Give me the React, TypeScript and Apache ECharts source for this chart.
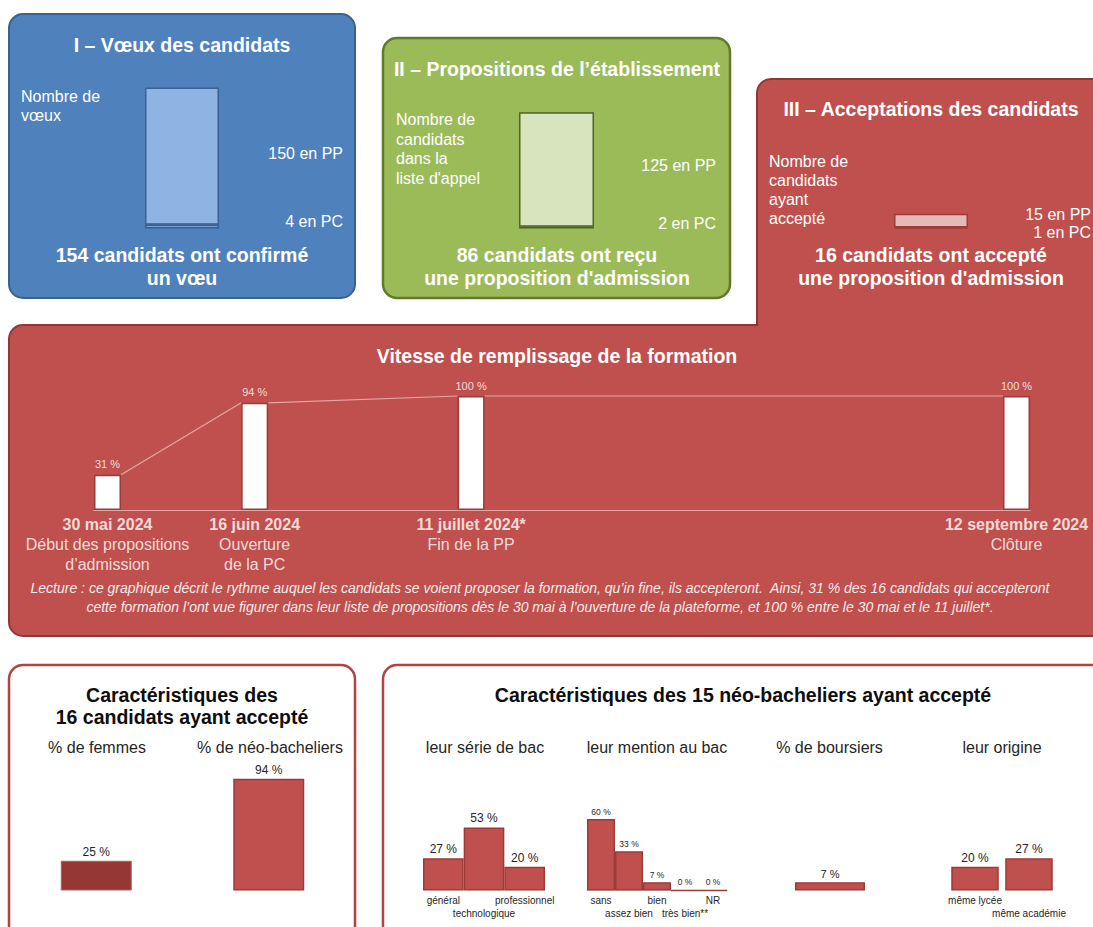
import React, { useEffect, useRef } from "react";
import * as echarts from "echarts";

const FONT = '"Liberation Sans", Arial, Helvetica, sans-serif';

// ---- Panel I : vœux
const voeuxPP = 150;
const voeuxPC = 4;
const voeuxConfirmes = 154;
// ---- Panel II : propositions
const propPP = 125;
const propPC = 2;
const propRecues = 86;
// ---- Panel III : acceptations
const accPP = 15;
const accPC = 1;
const accTotal = 16;

// ---- Vitesse de remplissage
const fillDates = ["2024-05-30", "2024-06-16", "2024-07-11", "2024-09-12"];
const fillPct = [31, 94, 100, 100];
const fillDateLabels = ["30 mai 2024", "16 juin 2024", "11 juillet 2024*", "12 septembre 2024"];
const fillEventLabels = [
  ["Début des propositions", "d’admission"],
  ["Ouverture", "de la PC"],
  ["Fin de la PP"],
  ["Clôture"],
];

// ---- Caractéristiques des candidats ayant accepté
const profileCats = ["% de femmes", "% de néo-bacheliers"];
const profileValues = [25, 94];

// ---- Caractéristiques des néo-bacheliers
const neoCount = 15;
const neoSubtitles = ["leur série de bac", "leur mention au bac", "% de boursiers", "leur origine"];
const serieCats = ["général", "technologique", "professionnel"];
const serieValues = [27, 53, 20];
const mentionCats = ["sans", "assez bien", "bien", "très bien**", "NR"];
const mentionValues = [60, 33, 7, 0, 0];
const boursierCats = ["boursiers"];
const boursierValues = [7];
const origineCats = ["même lycée", "même académie"];
const origineValues = [20, 27];

const RED = "#C0504D";
const RED_DARK = "#8C3836";
const BAR_BORDER = "#9B3B38";

const ts = (d: string) => new Date(d + "T00:00:00").getTime();

type TOpt = { size?: number; bold?: boolean; italic?: boolean; fill?: string; align?: string; lh?: number };
const T = (text: string, x: number, y: number, o: TOpt = {}) => {
  const size = o.size ?? 16;
  const align = o.align ?? "center";
  return {
    type: "text",
    x,
    y,
    silent: true,
    style: {
      text,
      fill: o.fill ?? "#FFFFFF",
      fontSize: size,
      fontWeight: o.bold ? "bold" : "normal",
      fontStyle: o.italic ? "italic" : "normal",
      fontFamily: FONT,
      lineHeight: o.lh ?? Math.round(size * 1.2),
      align,
      verticalAlign: "middle",
      textAlign: align,
      textVerticalAlign: "middle",
    },
  };
};
const R = (x: number, y: number, w: number, h: number, r: any, fill: string, stroke: string, lw: number) => ({
  type: "rect",
  silent: true,
  shape: { x, y, width: w, height: h, r },
  style: { fill, stroke, lineWidth: lw },
});

function buildOption(): any {
  const timelineData = fillDates.map((d, i) => [ts(d), fillPct[i]]);
  const tMin = ts(fillDates[0]);
  const tMax = ts(fillDates[fillDates.length - 1]);

  const topGrid = (left: number, width: number) => ({ left, width, top: 82, height: 146.5 });
  const botGrid = (left: number, width: number) => ({ left, width, top: 771.5, height: 119 });

  const stagger = (v: string, i: number) => (i % 2 ? "\n" + v : v);
  const catAxis = (gridIndex: number, data: string[], labels: boolean, line = false) => ({
    type: "category",
    gridIndex,
    data,
    axisLine: { show: line, lineStyle: { color: "#D9D9D9", width: 1.2 } },
    axisTick: { show: false },
    axisLabel: {
      show: labels,
      interval: 0,
      fontSize: 10,
      lineHeight: 13,
      margin: 3,
      color: "#262626",
      fontFamily: FONT,
      formatter: stagger,
    },
    splitLine: { show: false },
  });
  const valAxis = (gridIndex: number, max: number) => ({ type: "value", gridIndex, min: 0, max, show: false });

  const topBar = (idx: number, val: number, fill: string, border: string) => ({
    type: "bar",
    xAxisIndex: idx,
    yAxisIndex: idx,
    stack: "s" + idx,
    barWidth: "100%",
    data: [val],
    itemStyle: { color: fill, borderColor: border, borderWidth: 1.5 },
    silent: true,
  });

  const botLabel = (size: number) => ({
    show: true,
    position: "top",
    distance: 3,
    fontSize: size,
    color: "#262626",
    fontFamily: FONT,
    formatter: (p: any) => p.value + " %",
  });
  const botItem = { color: RED, borderColor: BAR_BORDER, borderWidth: 1.5 };

  const graphics: any[] = [
    // panels
    R(9, 14, 346, 284, 14, "#4F81BD", "#3A6190", 2),
    R(383, 38, 347, 260, 14, "#9BBB59", "#61792F", 2.5),
    R(757, 79, 360, 248, [14, 14, 0, 0], RED, RED_DARK, 2),
    R(9, 325, 1110, 311, 14, RED, RED_DARK, 2),
    R(758.5, 318, 360, 14, 0, RED, "none", 0),
    R(9, 665, 346, 290, 14, "#FFFFFF", "#B04441", 2.5),
    R(383, 665, 740, 290, 14, "#FFFFFF", "#B04441", 2.5),

    // Panel I
    T("I – Vœux des candidats", 182, 45, { size: 19.5, bold: true }),
    T("Nombre de\nvœux", 21, 105.5, { size: 16, align: "left", lh: 19 }),
    T(`${voeuxPP} en PP`, 343, 153, { size: 16, align: "right" }),
    T(`${voeuxPC} en PC`, 343, 221, { size: 16, align: "right" }),
    T(`${voeuxConfirmes} candidats ont confirmé\nun vœu`, 182, 266.5, { size: 19.5, bold: true, lh: 23 }),

    // Panel II
    T("II – Propositions de l’établissement", 557, 69, { size: 19.5, bold: true }),
    T("Nombre de\ncandidats\ndans la\nliste d'appel", 396, 149, { size: 16, align: "left", lh: 19.5 }),
    T(`${propPP} en PP`, 716, 165, { size: 16, align: "right" }),
    T(`${propPC} en PC`, 716, 223, { size: 16, align: "right" }),
    T(`${propRecues} candidats ont reçu\nune proposition d'admission`, 557, 266, { size: 19.5, bold: true, lh: 23 }),

    // Panel III
    T("III – Acceptations des candidats", 931, 109, { size: 19.5, bold: true }),
    T("Nombre de\ncandidats\nayant\naccepté", 769, 190, { size: 16, align: "left", lh: 18.8 }),
    T(`${accPP} en PP`, 1091, 214, { size: 16, align: "right" }),
    T(`${accPC} en PC`, 1091, 232, { size: 16, align: "right" }),
    T(`${accTotal} candidats ont accepté\nune proposition d'admission`, 931, 266, { size: 19.5, bold: true, lh: 23 }),

    // Timeline
    T("Vitesse de remplissage de la formation", 557, 356, { size: 19.5, bold: true }),
    T(
      "Lecture : ce graphique décrit le rythme auquel les candidats se voient proposer la formation, qu’in fine, ils accepteront.  Ainsi, 31 % des 16 candidats qui accepteront\ncette formation l’ont vue figurer dans leur liste de propositions dès le 30 mai à l’ouverture de la plateforme, et 100 % entre le 30 mai et le 11 juillet*.",
      540,
      597.5,
      { size: 14, italic: true, lh: 18.5, fill: "#F4ECEC" }
    ),

    // Bottom left
    T(`Caractéristiques des\n${accTotal} candidats ayant accepté`, 182, 706, { size: 19.5, bold: true, lh: 22, fill: "#0D0D0D" }),
    T(profileCats[0], 97, 747, { size: 16, fill: "#262626" }),
    T(profileCats[1], 270, 747, { size: 16, fill: "#262626" }),

    // Bottom right
    T(`Caractéristiques des ${neoCount} néo-bacheliers ayant accepté`, 743, 695, { size: 19.5, bold: true, fill: "#0D0D0D" }),
    T(neoSubtitles[0], 485, 747, { size: 16, fill: "#262626" }),
    T(neoSubtitles[1], 657, 747, { size: 16, fill: "#262626" }),
    T(neoSubtitles[2], 829.5, 747, { size: 16, fill: "#262626" }),
    T(neoSubtitles[3], 1002, 747, { size: 16, fill: "#262626" }),
  ];

  return {
    animation: false,
    backgroundColor: "#FFFFFF",
    textStyle: { fontFamily: FONT },
    graphic: { elements: graphics },
    grid: [
      topGrid(145, 74),
      topGrid(519, 75),
      topGrid(894, 74),
      { left: 94, width: 936, top: 396, height: 114 },
      botGrid(10, 345),
      botGrid(423, 122),
      botGrid(587, 140),
      botGrid(795, 70),
      botGrid(948, 108),
    ],
    xAxis: [
      { type: "category", gridIndex: 0, data: [""], show: false },
      { type: "category", gridIndex: 1, data: [""], show: false },
      { type: "category", gridIndex: 2, data: [""], show: false },
      {
        type: "time",
        gridIndex: 3,
        min: tMin,
        max: tMax,
        axisLine: { show: true, lineStyle: { color: "#E2A7A5", width: 1.2 } },
        axisTick: { show: false },
        axisLabel: { show: false },
        splitLine: { show: false },
      },
      catAxis(4, profileCats, false),
      catAxis(5, serieCats, true),
      catAxis(6, mentionCats, true, true),
      catAxis(7, boursierCats, false),
      catAxis(8, origineCats, true),
    ],
    yAxis: [
      valAxis(0, 160),
      valAxis(1, 160),
      valAxis(2, 160),
      valAxis(3, 100),
      valAxis(4, 100),
      valAxis(5, 100),
      valAxis(6, 100),
      valAxis(7, 100),
      valAxis(8, 100),
    ],
    series: [
      topBar(0, voeuxPC, "#8EB4E3", "#3B5F8F"),
      topBar(0, voeuxPP, "#8EB4E3", "#3B5F8F"),
      topBar(1, propPC, "#D7E4BD", "#4F6228"),
      topBar(1, propPP, "#D7E4BD", "#4F6228"),
      topBar(2, accPC, "#E6B9B8", "#9B3B38"),
      topBar(2, accPP, "#E6B9B8", "#9B3B38"),
      {
        type: "custom",
        coordinateSystem: "cartesian2d",
        xAxisIndex: 3,
        yAxisIndex: 3,
        silent: true,
        encode: { x: 0, y: 1 },
        data: timelineData,
        renderItem: (params: any, api: any) => {
          const i = params.dataIndex;
          if (i === 0) return { type: "group", children: [] };
          const p0 = api.coord(timelineData[i - 1]);
          const p1 = api.coord([api.value(0), api.value(1)]);
          return {
            type: "line",
            shape: { x1: p0[0] + 13.5, y1: p0[1], x2: p1[0] - 13.5, y2: p1[1] },
            style: { stroke: "#E2A7A5", lineWidth: 1.2 },
          };
        },
      },
      {
        type: "bar",
        xAxisIndex: 3,
        yAxisIndex: 3,
        barWidth: 27,
        silent: true,
        data: timelineData,
        itemStyle: { color: "#FFFFFF", borderColor: BAR_BORDER, borderWidth: 1.5 },
        label: {
          show: true,
          position: "top",
          distance: 5,
          fontSize: 11,
          color: "#F2DCDB",
          fontFamily: FONT,
          formatter: (p: any) => p.value[1] + " %",
        },
      },
      {
        type: "scatter",
        xAxisIndex: 3,
        yAxisIndex: 3,
        silent: true,
        symbolSize: 1,
        itemStyle: { color: "rgba(0,0,0,0)" },
        data: fillDates.map((d) => [ts(d), 0]),
        label: {
          show: true,
          position: "bottom",
          distance: 4,
          align: "center",
          formatter: (p: any) =>
            `{b|${fillDateLabels[p.dataIndex]}}\n` + fillEventLabels[p.dataIndex].map((l) => `{n|${l}}`).join("\n"),
          rich: {
            b: { fontSize: 16, fontWeight: "bold", color: "#FFFFFF", lineHeight: 20, fontFamily: FONT, align: "center" },
            n: { fontSize: 16, color: "#FFFFFF", lineHeight: 20, fontFamily: FONT, align: "center" },
          },
        },
      },
      {
        type: "bar",
        xAxisIndex: 4,
        yAxisIndex: 4,
        barWidth: 71,
        silent: true,
        data: profileValues.map((v, i) => ({
          value: v,
          itemStyle: i === 0 ? { color: "#953735", borderColor: "#B0605E", borderWidth: 1 } : botItem,
        })),
        label: botLabel(12),
      },
      {
        type: "bar",
        xAxisIndex: 5,
        yAxisIndex: 5,
        barCategoryGap: "0%",
        silent: true,
        data: serieValues,
        itemStyle: botItem,
        label: botLabel(12),
      },
      {
        type: "bar",
        xAxisIndex: 6,
        yAxisIndex: 6,
        barCategoryGap: "0%",
        silent: true,
        data: mentionValues,
        itemStyle: botItem,
        label: botLabel(8.5),
      },
      {
        type: "bar",
        xAxisIndex: 7,
        yAxisIndex: 7,
        barWidth: "100%",
        silent: true,
        data: boursierValues,
        itemStyle: botItem,
        label: botLabel(11),
      },
      {
        type: "bar",
        xAxisIndex: 8,
        yAxisIndex: 8,
        barCategoryGap: "12%",
        silent: true,
        data: origineValues,
        itemStyle: botItem,
        label: botLabel(12),
      },
    ],
  };
}

export default function App() {
  const ref = useRef<HTMLDivElement>(null);
  useEffect(() => {
    if (!ref.current) return;
    const chart = echarts.init(ref.current, null, { renderer: "svg" });
    chart.setOption(buildOption());
    return () => chart.dispose();
  }, []);
  return <div ref={ref} style={{ position: "absolute", left: 0, top: 0, width: 1093, height: 927 }} />;
}
